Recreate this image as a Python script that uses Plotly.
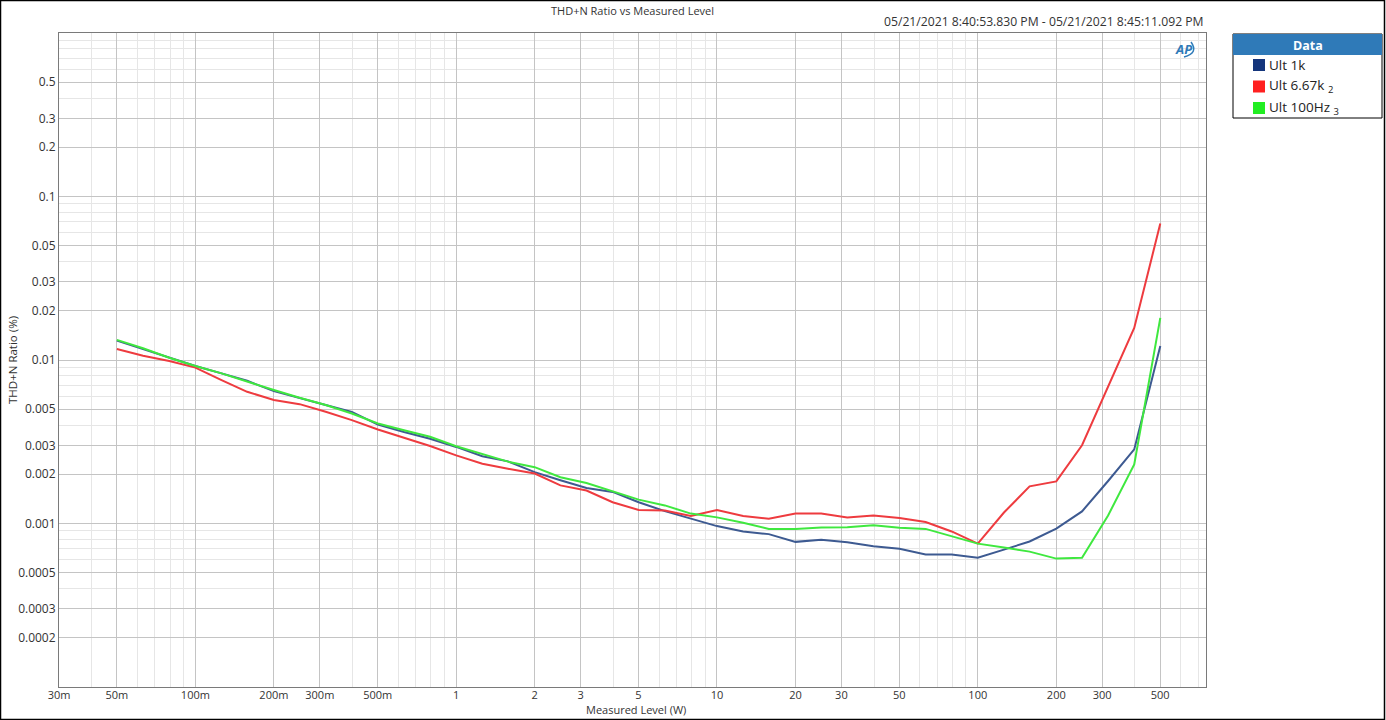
import plotly.graph_objects as go
import numpy as np

# ---- data ----
levels_w = [0.05, 0.063, 0.0794, 0.1, 0.126, 0.158, 0.2, 0.251, 0.316, 0.398, 0.501, 0.631, 0.794,
            1.0, 1.26, 1.58, 2.0, 2.51, 3.16, 3.98, 5.01, 6.31, 7.94,
            10.0, 12.6, 15.8, 20.0, 25.1, 31.6, 39.8, 50.1, 63.1, 79.4,
            100.0, 126.0, 158.0, 200.0, 251.0, 316.0, 398.0, 501.0]

ult_1k = [0.01314, 0.01162, 0.01033, 0.00919, 0.00828, 0.00746, 0.00645, 0.00582, 0.00530, 0.00482,
          0.00403, 0.00363, 0.00330, 0.00294, 0.00258, 0.00240, 0.00206, 0.00184, 0.00165, 0.00156,
          0.00135, 0.00119, 0.00107, 0.000964, 0.000894, 0.000861, 0.000772, 0.000795, 0.000768,
          0.000726, 0.000700, 0.000646, 0.000646, 0.000618, 0.000692, 0.000776, 0.000931, 0.001186,
          0.00182, 0.00284, 0.01219]

ult_667k = [0.01167, 0.01063, 0.00986, 0.00898, 0.00754, 0.00639, 0.00569, 0.00537, 0.00482, 0.00429,
            0.00376, 0.00336, 0.00298, 0.00261, 0.00232, 0.00216, 0.00202, 0.00171, 0.00159, 0.00135,
            0.00121, 0.00120, 0.00111, 0.00121, 0.00111, 0.00107, 0.00115, 0.00115, 0.00109, 0.00112,
            0.00108, 0.00102, 0.000894, 0.000753, 0.001167, 0.001687, 0.00181, 0.00301, 0.00683,
            0.0157, 0.0683]

ult_100hz = [0.01327, 0.0118, 0.01033, 0.00919, 0.00828, 0.00736, 0.00655, 0.00587, 0.00530, 0.00471,
             0.00409, 0.00372, 0.00339, 0.00297, 0.00267, 0.00239, 0.00221, 0.00192, 0.00177, 0.00158,
             0.00140, 0.00129, 0.00115, 0.00109, 0.00101, 0.000927, 0.000927, 0.000945, 0.000948,
             0.000977, 0.000941, 0.000927, 0.000832, 0.000753, 0.000714, 0.000673, 0.000610, 0.000618,
             0.00112, 0.00230, 0.0181]

series_names = ["Ult 1k", "Ult 6.67k 2", "Ult 100Hz 3"]
legend_labels = ["Ult 1k", "Ult 6.67k <sub>2</sub>", "Ult 100Hz <sub>3</sub>"]
line_colors = ["#3d5a91", "#ee3b3f", "#3fe83f"]
legend_colors = ["#14357c", "#ff2020", "#22ee22"]

x_tickvals = [0.03, 0.05, 0.1, 0.2, 0.3, 0.5, 1, 2, 3, 5, 10, 20, 30, 50, 100, 200, 300, 500]
x_ticktext = ["30m", "50m", "100m", "200m", "300m", "500m", "1", "2", "3", "5",
              "10", "20", "30", "50", "100", "200", "300", "500"]
y_tickvals = [0.5, 0.3, 0.2, 0.1, 0.05, 0.03, 0.02, 0.01, 0.005, 0.003, 0.002, 0.001,
              0.0005, 0.0003, 0.0002]
y_ticktext = ["0.5", "0.3", "0.2", "0.1", "0.05", "0.03", "0.02", "0.01", "0.005", "0.003",
              "0.002", "0.001", "0.0005", "0.0003", "0.0002"]

title_text = "THD+N Ratio vs Measured Level"
date_text = "05/21/2021 8:40:53.830 PM - 05/21/2021 8:45:11.092 PM"
x_title = "Measured Level (W)"
y_title = "THD+N Ratio (%)"

# ---- layout geometry ----
W, H = 1386, 720
L, R, T, B = 59, 180, 33, 33
pw, ph = W - L - R, H - T - B

def px_x(p):
    return (p - L) / pw

def px_y(p):
    return 1 - (p - T) / ph

def minor_vals(lo_exp, hi_exp, major):
    vals = []
    for e in range(lo_exp, hi_exp + 1):
        for m in range(1, 10):
            v = round(m * 10 ** e, 10)
            if not any(abs(v - mv) / mv < 1e-6 for mv in major):
                vals.append(v)
    return vals

x_minor = [v for v in minor_vals(-2, 2, x_tickvals) if 0.03 <= v <= 750]
y_minor = [v for v in minor_vals(-4, 0, y_tickvals) if 0.0001 <= v <= 1]

font_fam = "Segoe UI, Open Sans, DejaVu Sans, sans-serif"

fig = go.Figure()
for name, ys, col in zip(series_names, [ult_1k, ult_667k, ult_100hz], line_colors):
    fig.add_trace(go.Scatter(x=levels_w, y=ys, mode="lines", name=name,
                             line=dict(color=col, width=2), showlegend=False))

axis_common = dict(
    type="log", showline=True, linecolor="#7a7a7a", linewidth=1, mirror=True,
    showgrid=True, gridcolor="#c4c4c4", gridwidth=1, zeroline=False, ticks="",
)

fig.update_xaxes(**axis_common, range=[np.log10(0.03), np.log10(750)],
                 tickmode="array", tickvals=x_tickvals, ticktext=x_ticktext,
                 tickfont=dict(family=font_fam, size=11, color="#333333"),
                 ticklabelstandoff=-2,
                 minor=dict(tickmode="array", tickvals=x_minor, showgrid=True,
                            gridcolor="#e6e6e6", gridwidth=1, ticks=""))
fig.update_yaxes(**axis_common, range=[-4, 0],
                 tickmode="array", tickvals=y_tickvals, ticktext=y_ticktext,
                 tickfont=dict(family=font_fam, size=12, color="#333333"),
                 minor=dict(tickmode="array", tickvals=y_minor, showgrid=True,
                            gridcolor="#e6e6e6", gridwidth=1, ticks=""))

shapes = []
annotations = []

# outer black border
shapes.append(dict(type="rect", xref="paper", yref="paper",
                   x0=px_x(0.5), x1=px_x(W - 1.5), y0=px_y(H - 0.5), y1=px_y(0.5),
                   line=dict(color="black", width=1.5), fillcolor="rgba(0,0,0,0)", layer="above"))

# title, date and axis titles
annotations.append(dict(text=title_text, xref="paper", yref="paper", x=0.5, y=px_y(1.5),
                        xanchor="center", yanchor="top", showarrow=False,
                        font=dict(family=font_fam, size=11, color="#333333")))
annotations.append(dict(text=date_text, xref="paper", yref="paper", x=1, y=px_y(21),
                        xanchor="right", yanchor="middle", showarrow=False,
                        font=dict(family=font_fam, size=12.2, color="#333333")))
annotations.append(dict(text=x_title, xref="paper", yref="paper", x=px_x(636), y=px_y(719),
                        xanchor="center", yanchor="bottom", showarrow=False,
                        font=dict(family=font_fam, size=11, color="#333333")))
annotations.append(dict(text=y_title, xref="paper", yref="paper", x=px_x(12), y=0.5,
                        xanchor="center", yanchor="middle", showarrow=False, textangle=-90,
                        font=dict(family=font_fam, size=11.5, color="#333333")))

# AP logo
annotations.append(dict(text="<b><i>AP</i></b>", xref="paper", yref="paper", x=px_x(1183), y=px_y(49),
                        xanchor="center", yanchor="middle", showarrow=False,
                        font=dict(family=font_fam, size=13, color="#2f7ab8")))
shapes.append(dict(type="path", xref="paper", yref="paper",
                   path="M %f,%f Q %f,%f %f,%f" % (px_x(1184), px_y(57), px_x(1199), px_y(53),
                                                  px_x(1191), px_y(42)),
                   line=dict(color="#2f7ab8", width=1.5)))

# custom legend box
lx0, lx1, ly0, ly1 = 1233, 1382, 34, 118
shapes.append(dict(type="rect", xref="paper", yref="paper",
                   x0=px_x(lx0), x1=px_x(lx1), y0=px_y(ly1), y1=px_y(ly0),
                   line=dict(color="black", width=1), fillcolor="white"))
shapes.append(dict(type="rect", xref="paper", yref="paper",
                   x0=px_x(lx0), x1=px_x(lx1), y0=px_y(55), y1=px_y(ly0),
                   line=dict(width=0), fillcolor="#2f7ab8"))
annotations.append(dict(text="<b>Data</b>", xref="paper", yref="paper",
                        x=px_x((lx0 + lx1) / 2), y=px_y(45), xanchor="center", yanchor="middle",
                        showarrow=False, font=dict(family=font_fam, size=12.5, color="white")))
for i, (lab, col) in enumerate(zip(legend_labels, legend_colors)):
    cy = 65 + i * 21.5
    shapes.append(dict(type="rect", xref="paper", yref="paper",
                       x0=px_x(1253), x1=px_x(1265), y0=px_y(cy + 6), y1=px_y(cy - 6),
                       line=dict(width=0), fillcolor=col))
    annotations.append(dict(text=lab, xref="paper", yref="paper", x=px_x(1267), y=px_y(cy),
                            xanchor="left", yanchor="middle", showarrow=False,
                            font=dict(family=font_fam, size=13.5, color="#222222")))

fig.update_layout(
    width=W, height=H,
    margin=dict(l=L, r=R, t=T, b=B, autoexpand=False),
    paper_bgcolor="white", plot_bgcolor="white",
    shapes=shapes, annotations=annotations,
    font=dict(family=font_fam, size=11, color="#333333"),
    showlegend=False,
)

fig.write_html("out.html", config={"displayModeBar": False},
               post_script="document.body.style.margin='0';document.body.style.overflow='hidden';")
